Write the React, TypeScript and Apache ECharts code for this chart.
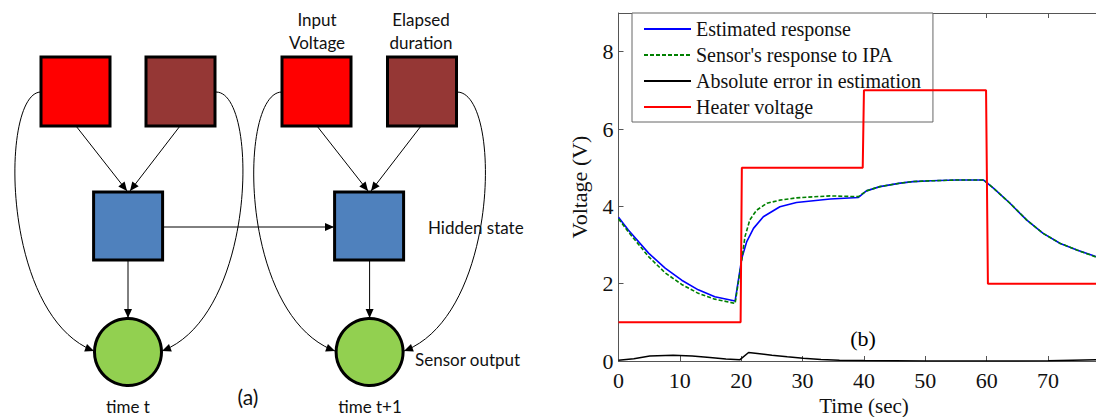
import React, { useEffect, useRef } from "react";
import * as echarts from "echarts";

// ---- Data ----
const timeEst = [0, 1.6, 4.9, 7.6, 10.3, 13, 15.7, 19.0, 20.1, 20.9, 22, 23.6, 26.3, 29, 34.5, 39.1, 40.4, 42.6, 45.9, 48, 51, 55, 59.5, 61.1, 63.8, 66.5, 69.2, 72, 74.7, 77.8, 80];
const estimated = [3.72, 3.39, 2.79, 2.40, 2.09, 1.84, 1.66, 1.55, 2.66, 3.09, 3.43, 3.73, 3.99, 4.10, 4.19, 4.23, 4.40, 4.51, 4.60, 4.64, 4.66, 4.68, 4.68, 4.47, 4.08, 3.65, 3.30, 3.04, 2.87, 2.70, 2.62];

const timeSens = [0, 1.6, 4.9, 7.6, 10.3, 13, 15.7, 19.0, 20.1, 20.6, 21.4, 22.5, 24.2, 26.3, 29, 34.5, 39.1, 40.4, 42.6, 45.9, 48, 51, 55, 59.5, 61.1, 63.8, 66.5, 69.2, 72, 74.7, 77.8, 80];
const sensor = [3.68, 3.34, 2.70, 2.28, 1.98, 1.75, 1.60, 1.49, 2.62, 3.21, 3.65, 3.90, 4.08, 4.16, 4.22, 4.27, 4.25, 4.40, 4.51, 4.60, 4.64, 4.66, 4.68, 4.68, 4.47, 4.08, 3.65, 3.30, 3.04, 2.87, 2.69, 2.61];

const timeErr = [0, 2.5, 5.1, 8.9, 12, 14.9, 17.5, 19.8, 21.2, 23, 25, 27.5, 30.1, 33, 36, 40, 45, 50, 55, 60, 65, 70, 74, 78, 80];
const absError = [0.02, 0.06, 0.13, 0.15, 0.13, 0.09, 0.05, 0.035, 0.22, 0.19, 0.15, 0.11, 0.07, 0.04, 0.02, 0.01, 0.005, 0, 0, 0, 0, 0.005, 0.02, 0.03, 0.035];

const timeHeat = [0, 19.9, 20.1, 39.8, 40, 59.9, 60.2, 80];
const heater = [1, 1, 5, 5, 7, 7, 2, 2];

const seriesNames = ["Estimated response", "Sensor's response to IPA", "Absolute error in estimation", "Heater voltage"];
const xMin = 0;
const xMax = 80;
const yMin = 0;
const yMax = 9;

const pair = (xs: number[], ys: number[]) => xs.map((x, i) => [x, ys[i]]);

// ---- Diagram helpers ----
const SANS = "Lato";
const SERIF = "'Liberation Serif', 'Times New Roman', serif";

function arrowHead(tx: number, ty: number, fx: number, fy: number) {
  const dx = tx - fx, dy = ty - fy;
  const len = Math.sqrt(dx * dx + dy * dy) || 1;
  const ux = dx / len, uy = dy / len;
  const L = 9, W = 4;
  return {
    type: "polygon",
    shape: {
      points: [
        [tx, ty],
        [tx - L * ux + W * uy, ty - L * uy - W * ux],
        [tx - L * ux - W * uy, ty - L * uy + W * ux],
      ],
    },
    style: { fill: "#000" },
    silent: true,
  };
}

function straightArrow(x1: number, y1: number, x2: number, y2: number) {
  return [
    { type: "line", shape: { x1, y1, x2, y2 }, style: { stroke: "#000", lineWidth: 1 }, silent: true },
    arrowHead(x2, y2, x1, y1),
  ];
}

function curveArrow(x1: number, y1: number, c1x: number, c1y: number, c2x: number, c2y: number, x2: number, y2: number) {
  return [
    {
      type: "bezierCurve",
      shape: { x1, y1, x2, y2, cpx1: c1x, cpy1: c1y, cpx2: c2x, cpy2: c2y },
      style: { stroke: "#000", lineWidth: 1, fill: null },
      silent: true,
    },
    arrowHead(x2, y2, c2x, c2y),
  ];
}

function box(x: number, y: number, w: number, h: number, fill: string) {
  return { type: "rect", shape: { x, y, width: w, height: h }, style: { fill, stroke: "#000", lineWidth: 3 }, silent: true };
}

function label(text: string, x: number, y: number, align: string = "center", size: number = 17) {
  return {
    type: "text",
    x,
    y,
    style: { text, fill: "#111", font: `${size}px ${SANS}`, align, verticalAlign: "middle" },
    silent: true,
  };
}

export default function App() {
  const ref = useRef<HTMLDivElement>(null);

  useEffect(() => {
    if (!ref.current) return;
    const chart = echarts.init(ref.current, null, { renderer: "svg" });

    const diagram: any[] = [
      // curved arrows (drawn first, under boxes)
      ...curveArrow(41, 92, 0, 92, 0, 315, 94, 351),
      ...curveArrow(216, 92, 259, 92, 257, 315, 162, 351),
      ...curveArrow(282, 92, 238, 92, 238, 315, 335, 351),
      ...curveArrow(457, 92, 502, 92, 500, 315, 404, 351),
      // straight arrows
      ...straightArrow(76, 126, 127, 191),
      ...straightArrow(180, 126, 130, 191),
      ...straightArrow(317, 126, 368, 191),
      ...straightArrow(421, 126, 371, 191),
      ...straightArrow(162, 227, 334, 227),
      ...straightArrow(128, 260, 128, 318),
      ...straightArrow(369.6, 260, 369.6, 318),
      // boxes
      box(41, 57, 69, 69, "#FF0000"),
      box(146, 57, 69, 69, "#953735"),
      box(282, 57, 69, 69, "#FF0000"),
      box(387.5, 57, 69, 69, "#953735"),
      box(93.6, 192, 69, 68, "#4F81BD"),
      box(334.6, 192, 69, 68, "#4F81BD"),
      { type: "circle", shape: { cx: 128, cy: 352, r: 33.5 }, style: { fill: "#92D050", stroke: "#000", lineWidth: 3 }, silent: true },
      { type: "circle", shape: { cx: 369.6, cy: 352, r: 33.5 }, style: { fill: "#92D050", stroke: "#000", lineWidth: 3 }, silent: true },
      // texts
      label("Input", 317, 19),
      label("Voltage", 317, 42),
      label("Elapsed", 421, 19),
      label("duration", 421, 42),
      label("Hidden state", 428, 227, "left"),
      label("Sensor output", 415, 359, "left"),
      label("(a)", 248, 396, "center", 21),
      label("time t", 128, 406),
      label("time t+1", 370, 406),
      // chart annotation
      {
        type: "text",
        x: 863,
        y: 338,
        style: { text: "(b)", fill: "#000", font: `22px ${SERIF}`, align: "center", verticalAlign: "middle" },
        silent: true,
      },
    ];

    const axisLine = { show: true, lineStyle: { color: "#555", width: 1 } };
    const axisTick = { inside: true, length: 5, lineStyle: { color: "#555" } };

    chart.setOption({
      animation: false,
      backgroundColor: "#fff",
      textStyle: { fontFamily: SERIF },
      grid: { left: 618.5, top: 13, right: -13.4, bottom: 56, containLabel: false, outerBoundsMode: "none" },
      legend: {
        data: seriesNames,
        orient: "vertical",
        left: 632,
        top: 13,
        itemWidth: 47,
        itemHeight: 14,
        itemGap: 6,
        padding: [6, 12, 5, 11],
        backgroundColor: "#fff",
        borderColor: "#666",
        borderWidth: 1,
        borderRadius: 0,
        itemStyle: { color: "rgba(0,0,0,0)", borderColor: "rgba(0,0,0,0)", borderWidth: 0, opacity: 0 },
        textStyle: { fontFamily: SERIF, fontSize: 20, color: "#111" },
        selectedMode: false,
      },
      xAxis: [
        {
          type: "value",
          min: xMin,
          max: xMax,
          interval: 10,
          name: "Time (sec)",
          nameLocation: "middle",
          nameGap: 24,
          nameTextStyle: { fontFamily: SERIF, fontSize: 21, color: "#111" },
          axisLine,
          axisTick,
          axisLabel: { fontFamily: SERIF, fontSize: 22, color: "#111", margin: 8, showMaxLabel: false },
          splitLine: { show: false },
        },
        {
          type: "value",
          position: "top",
          min: xMin,
          max: xMax,
          interval: 10,
          axisLine,
          axisTick,
          axisLabel: { show: false },
          splitLine: { show: false },
        },
      ],
      yAxis: {
        type: "value",
        min: yMin,
        max: yMax,
        interval: 2,
        name: "Voltage (V)",
        nameLocation: "middle",
        nameGap: 28,
        nameTextStyle: { fontFamily: SERIF, fontSize: 22, color: "#111" },
        axisLine,
        axisTick,
        axisLabel: { fontFamily: SERIF, fontSize: 22, color: "#111", margin: 5, showMaxLabel: false },
        splitLine: { show: false },
      },
      series: [
        {
          name: seriesNames[0],
          type: "line",
          data: pair(timeEst, estimated),
          symbol: "none",
          lineStyle: { color: "#0000ff", width: 1.6 },
          itemStyle: { color: "#0000ff" },
          z: 3,
        },
        {
          name: seriesNames[1],
          type: "line",
          data: pair(timeSens, sensor),
          symbol: "none",
          lineStyle: { color: "#008000", width: 1.6, type: [4, 2] },
          itemStyle: { color: "#008000" },
          z: 4,
        },
        {
          name: seriesNames[2],
          type: "line",
          data: pair(timeErr, absError),
          symbol: "none",
          lineStyle: { color: "#000", width: 1.5 },
          itemStyle: { color: "#000" },
          z: 4,
        },
        {
          name: seriesNames[3],
          type: "line",
          data: pair(timeHeat, heater),
          symbol: "none",
          lineStyle: { color: "#ff0000", width: 2 },
          itemStyle: { color: "#ff0000" },
          z: 5,
        },
      ],
      graphic: diagram,
    });

    return () => chart.dispose();
  }, []);

  return (
    <div
      ref={ref}
      style={{ position: "absolute", left: 0, top: 0, width: 1096, height: 417, background: "#fff", overflow: "hidden" }}
    />
  );
}
